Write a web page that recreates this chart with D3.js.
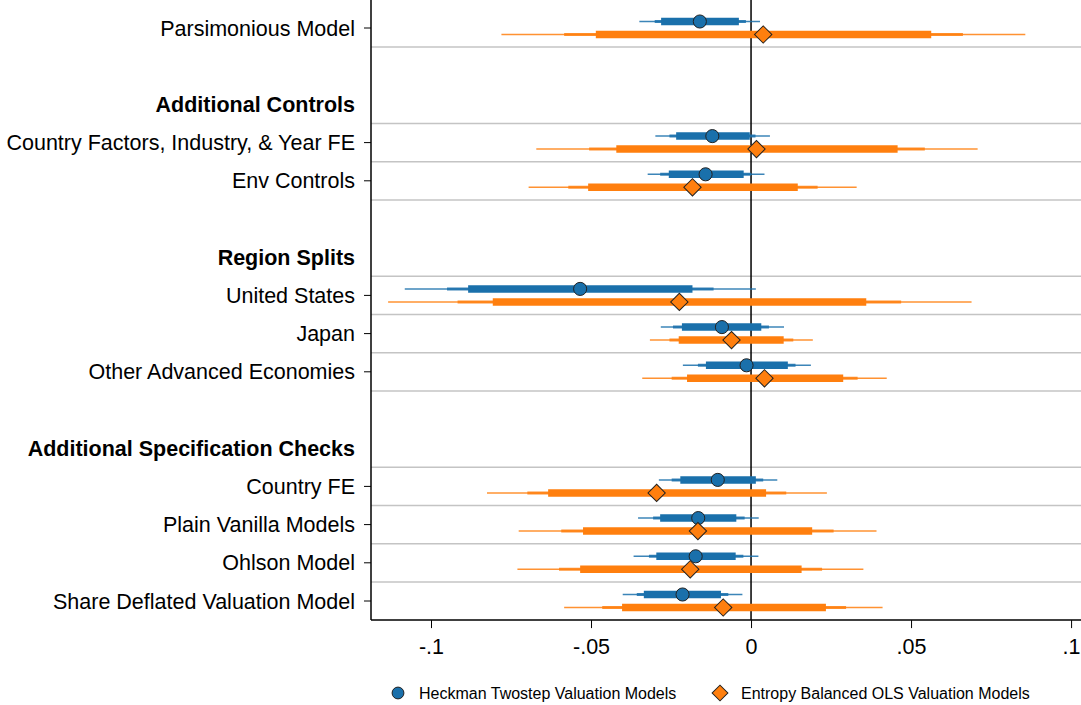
<!DOCTYPE html>
<html>
<head>
<meta charset="utf-8">
<script src="https://cdn.jsdelivr.net/npm/d3@7"></script>
<style>
	body { margin: 0; background: #fff; }
	svg { display: block; font-family: 'Liberation Sans', Arial, sans-serif; }
</style>
</head>
<body>
<svg id="chart" width="1081" height="705"></svg>
<script>
// rows, top to bottom; type: 'coef' | 'head' | 'gap'
const rows = [
	{ label: 'Parsimonious Model', type: 'coef' },
	{ label: '', type: 'gap' },
	{ label: 'Additional Controls', type: 'head' },
	{ label: 'Country Factors, Industry, & Year FE', type: 'coef' },
	{ label: 'Env Controls', type: 'coef' },
	{ label: '', type: 'gap' },
	{ label: 'Region Splits', type: 'head' },
	{ label: 'United States', type: 'coef' },
	{ label: 'Japan', type: 'coef' },
	{ label: 'Other Advanced Economies', type: 'coef' },
	{ label: '', type: 'gap' },
	{ label: 'Additional Specification Checks', type: 'head' },
	{ label: 'Country FE', type: 'coef' },
	{ label: 'Plain Vanilla Models', type: 'coef' },
	{ label: 'Ohlson Model', type: 'coef' },
	{ label: 'Share Deflated Valuation Model', type: 'coef' },
];
const coefRows = [0, 3, 4, 7, 8, 9, 12, 13, 14, 15];

const xTicks = [-0.1, -0.05, 0, 0.05, 0.1];
const xTickLabels = ['-.1', '-.05', '0', '.05', '.1'];

// Heckman Twostep (blue)
const heckEst  = [-0.0160, -0.0121, -0.0142, -0.0534, -0.0091, -0.0014, -0.0104, -0.0165, -0.0173, -0.0214];
const heckLo90 = [-0.0281, -0.0234, -0.0257, -0.0884, -0.0216, -0.0141, -0.0221, -0.0284, -0.0296, -0.0335];
const heckHi90 = [-0.0038, -0.0004, -0.0023, -0.0183,  0.0032,  0.0115,  0.0015, -0.0046, -0.0048, -0.0094];
const heckLo95 = [-0.0301, -0.0255, -0.0284, -0.0950, -0.0244, -0.0166, -0.0248, -0.0306, -0.0319, -0.0357];
const heckHi95 = [-0.0016,  0.0014,  0.0000, -0.0117,  0.0056,  0.0139,  0.0038, -0.0020, -0.0024, -0.0071];
const heckLo99 = [-0.0349, -0.0299, -0.0323, -0.1082, -0.0282, -0.0213, -0.0288, -0.0353, -0.0367, -0.0401];
const heckHi99 = [ 0.0028,  0.0059,  0.0042,  0.0015,  0.0103,  0.0187,  0.0082,  0.0024,  0.0023, -0.0027];

// Entropy Balanced OLS (orange)
const ebEst  = [ 0.0038,  0.0017, -0.0183, -0.0224, -0.0061,  0.0042, -0.0295, -0.0166, -0.0190, -0.0087];
const ebLo90 = [-0.0485, -0.0421, -0.0509, -0.0807, -0.0226, -0.0200, -0.0634, -0.0525, -0.0534, -0.0403];
const ebHi90 = [ 0.0563,  0.0458,  0.0146,  0.0360,  0.0102,  0.0288,  0.0047,  0.0191,  0.0158,  0.0234];
const ebLo95 = [-0.0584, -0.0506, -0.0571, -0.0917, -0.0255, -0.0248, -0.0699, -0.0593, -0.0600, -0.0465];
const ebHi95 = [ 0.0662,  0.0543,  0.0208,  0.0469,  0.0132,  0.0333,  0.0110,  0.0258,  0.0222,  0.0297];
const ebLo99 = [-0.0780, -0.0671, -0.0695, -0.1134, -0.0316, -0.0340, -0.0825, -0.0726, -0.0730, -0.0584];
const ebHi99 = [ 0.0857,  0.0708,  0.0330,  0.0689,  0.0193,  0.0424,  0.0237,  0.0392,  0.0351,  0.0411];

const series = [
	{ name: 'Heckman Twostep Valuation Models', color: '#1a70ab', shape: 'circle', dy: -6.5,
		est: heckEst, lo90: heckLo90, hi90: heckHi90, lo95: heckLo95, hi95: heckHi95, lo99: heckLo99, hi99: heckHi99 },
	{ name: 'Entropy Balanced OLS Valuation Models', color: '#ff7f0e', shape: 'diamond', dy: 6.5,
		est: ebEst, lo90: ebLo90, hi90: ebHi90, lo95: ebLo95, hi95: ebHi95, lo99: ebLo99, hi99: ebHi99 },
];

const margin = { top: 0, right: 0, bottom: 85, left: 371 };
const W = 1081, H = 705;
const svg = d3.select('#chart');
const g = svg.append('g');

const x = d3.scaleLinear().domain([-0.11875, 0.1031]).range([margin.left, W]);
const step = 38.2;
const y = (i) => 28 + step * i;
const yBottom = y(rows.length - 1) + step / 2;

const marker = (shape, size) => shape === 'circle'
	? d3.symbol(d3.symbolCircle, size)
	: d3.symbol(d3.symbolSquare, size);

// grey separators around each coefficient row
const seps = new Set();
coefRows.forEach((r) => {
	if (r > 0) seps.add(r - 0.5);
	if (r < rows.length - 1) seps.add(r + 0.5);
});
g.selectAll('line.sep')
	.data([...seps])
	.join('line')
	.attr('class', 'sep')
	.attr('x1', margin.left).attr('x2', W)
	.attr('y1', (d) => y(d)).attr('y2', (d) => y(d))
	.attr('stroke', '#c4c4c4')
	.attr('stroke-width', 1.5);

// zero line
g.append('line')
	.attr('x1', x(0)).attr('x2', x(0))
	.attr('y1', 0).attr('y2', yBottom)
	.attr('stroke', '#000')
	.attr('stroke-width', 1.5);

// CI bars + markers
series.forEach((s) => {
	const data = coefRows.map((r, i) => ({
		yy: y(r) + s.dy,
		est: s.est[i],
		lo90: s.lo90[i], hi90: s.hi90[i],
		lo95: s.lo95[i], hi95: s.hi95[i],
		lo99: s.lo99[i], hi99: s.hi99[i],
	}));
	const sg = g.append('g');
	const levels = [
		{ lo: 'lo99', hi: 'hi99', w: 1.5, op: 0.85 },
		{ lo: 'lo95', hi: 'hi95', w: 3, op: 0.85 },
		{ lo: 'lo90', hi: 'hi90', w: 7.5, op: 1 },
	];
	levels.forEach((lv) => {
		sg.selectAll(null)
			.data(data)
			.join('line')
			.attr('x1', (d) => x(d[lv.lo])).attr('x2', (d) => x(d[lv.hi]))
			.attr('y1', (d) => d.yy).attr('y2', (d) => d.yy)
			.attr('stroke', s.color)
			.attr('stroke-opacity', lv.op)
			.attr('stroke-width', lv.w);
	});
	sg.selectAll(null)
		.data(data)
		.join('path')
		.attr('d', marker(s.shape, s.shape === 'circle' ? 135 : 150))
		.attr('transform', (d) => `translate(${x(d.est)},${d.yy})${s.shape === 'diamond' ? ' rotate(45)' : ''}`)
		.attr('fill', s.color)
		.attr('stroke', '#222')
		.attr('stroke-width', 1);
});

// axes
g.append('line')
	.attr('x1', margin.left).attr('x2', margin.left)
	.attr('y1', 0).attr('y2', yBottom)
	.attr('stroke', '#000').attr('stroke-width', 1.5);
g.append('line')
	.attr('x1', margin.left).attr('x2', W)
	.attr('y1', yBottom).attr('y2', yBottom)
	.attr('stroke', '#000').attr('stroke-width', 1.5);

// y labels
rows.forEach((r, i) => {
	if (r.type === 'gap') return;
	g.append('text')
		.attr('x', 355)
		.attr('y', y(i))
		.attr('dy', '0.35em')
		.attr('text-anchor', 'end')
		.attr('font-size', 21.5)
		.attr('font-weight', r.type === 'head' ? 'bold' : 'normal')
		.attr('fill', '#000')
		.text(r.label);
	if (r.type === 'coef') {
		g.append('line')
			.attr('x1', margin.left - 7).attr('x2', margin.left)
			.attr('y1', y(i)).attr('y2', y(i))
			.attr('stroke', '#000').attr('stroke-width', 1);
	}
});

// x axis
const xAxis = d3.axisBottom(x)
	.tickValues(xTicks)
	.tickFormat((d, i) => xTickLabels[i])
	.tickSize(8)
	.tickPadding(11);
const ax = g.append('g')
	.attr('transform', `translate(0,${yBottom})`)
	.call(xAxis);
ax.select('.domain').remove();
ax.selectAll('line').attr('stroke', '#000').attr('stroke-width', 1);
ax.selectAll('text').attr('font-size', 21.5).attr('fill', '#000')
	.attr('font-family', "'Liberation Sans', Arial, sans-serif");

// legend
const legend = g.append('g').attr('transform', 'translate(0,693)');
const legX = [398, 720];
series.forEach((s, i) => {
	legend.append('path')
		.attr('d', marker(s.shape, s.shape === 'circle' ? 110 : 125))
		.attr('transform', `translate(${legX[i]},0)${s.shape === 'diamond' ? ' rotate(45)' : ''}`)
		.attr('fill', s.color)
		.attr('stroke', '#222')
		.attr('stroke-width', 1);
	legend.append('text')
		.attr('x', legX[i] + 21)
		.attr('y', 0)
		.attr('dy', '0.35em')
		.attr('font-size', 16)
		.attr('fill', '#000')
		.text(s.name);
});
</script>
</body>
</html>
